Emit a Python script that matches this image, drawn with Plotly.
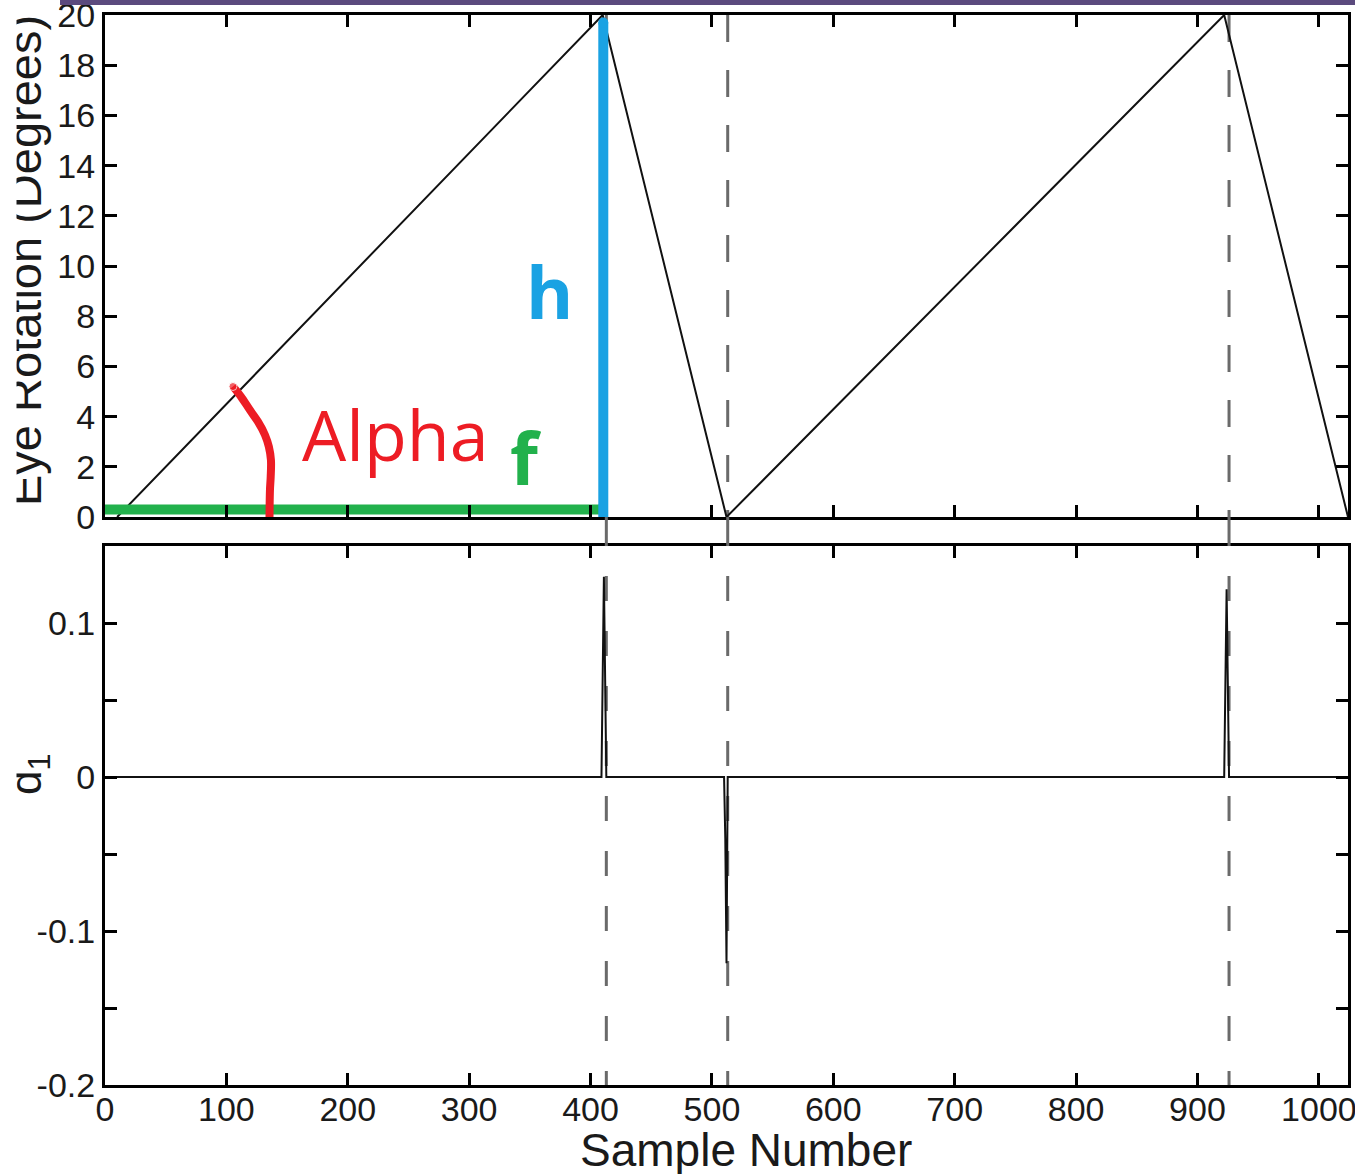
import plotly.graph_objects as go

# ---------------- data ----------------
saw_x = [10, 410, 512, 922, 1024]
saw_y = [0, 20, 0, 20, 0]

d1_x = [0, 409, 411, 413, 510, 511, 512, 513, 922, 924, 926, 1024]
d1_y = [0, 0, 0.13, 0, 0, -0.04, -0.121, 0, 0, 0.122, 0, 0]

event_x = [413, 513, 926]

green_x = [-4, 408]
green_y = [0.3, 0.3]
blue_x = [410.5, 410.5]
blue_y = [-0.1, 19.7]
red_x = [105.4, 112, 119.4, 126, 131.8, 135, 136.7, 136.5, 135.9, 135.5]
red_y = [5.2, 4.8, 4.26, 3.8, 3.27, 2.8, 2.27, 1.6, 1.08, -0.1]

x_ticks = [0, 100, 200, 300, 400, 500, 600, 700, 800, 900, 1000]
x_ticktext = ["0", "100", "200", "300", "400", "500", "600", "700", "800", "900", "1000"]
top_y_ticks = [0, 2, 4, 6, 8, 10, 12, 14, 16, 18, 20]
bot_y_ticks = [-0.2, -0.15, -0.1, -0.05, 0, 0.05, 0.1, 0.15]
bot_y_ticktext = ["-0.2", "", "-0.1", "", "0", "", "0.1", ""]

FONT = "Liberation Sans, Arial, sans-serif"
ANN_FONT = "Open Sans, Noto Sans, sans-serif"

fig = go.Figure()

fig.add_trace(go.Scatter(x=saw_x, y=saw_y, mode="lines",
                         line=dict(color="#111111", width=2),
                         xaxis="x", yaxis="y", showlegend=False))

fig.add_trace(go.Scatter(x=green_x, y=green_y, mode="lines+markers",
                         line=dict(color="#22b14c", width=10),
                         marker=dict(color="#22b14c", size=10),
                         xaxis="x", yaxis="y", showlegend=False, cliponaxis=False))
fig.add_trace(go.Scatter(x=blue_x, y=blue_y, mode="lines+markers",
                         line=dict(color="#1aa2e3", width=10),
                         marker=dict(color="#1aa2e3", size=10),
                         xaxis="x", yaxis="y", showlegend=False, cliponaxis=False))
fig.add_trace(go.Scatter(x=red_x, y=red_y, mode="lines+markers",
                         line=dict(color="#ed1c24", width=8, shape="spline"),
                         marker=dict(color="#ed1c24", size=[8, 0, 0, 0, 0, 0, 0, 0, 0, 8]),
                         xaxis="x", yaxis="y", showlegend=False, cliponaxis=False))

fig.add_trace(go.Scatter(x=d1_x, y=d1_y, mode="lines",
                         line=dict(color="#111111", width=2),
                         xaxis="x2", yaxis="y2", showlegend=False))

top_dom = [0.5308, 1.0]
bot_dom = [0.0, 0.5037]

shapes = []
for ex in event_x:
    shapes.append(dict(type="line", xref="x", yref="y", x0=ex, x1=ex, y0=20, y1=0,
                       line=dict(color="#6a6a6a", width=3, dash="27px,28px"), layer="below"))
    shapes.append(dict(type="line", xref="x2", yref="paper", x0=ex, x1=ex,
                       y0=bot_dom[1], y1=top_dom[0],
                       line=dict(color="#6a6a6a", width=3)))
    shapes.append(dict(type="line", xref="x2", yref="y2", x0=ex, x1=ex, y0=0.15, y1=-0.2,
                       line=dict(color="#6a6a6a", width=3, dash="0px,30px,25px,0px"), layer="below"))

# purple bar at top
shapes.append(dict(type="rect", xref="paper", yref="paper",
                   x0=(60 - 105) / 1243, x1=(1360 - 105) / 1243,
                   y0=(1085 - 5) / 1070, y1=(1085 + 20) / 1070,
                   fillcolor="#5b4a7e", line=dict(width=0)))

axis_common = dict(showline=True, linecolor="black", linewidth=3, mirror="ticks",
                   ticks="inside", ticklen=12, tickwidth=3, tickcolor="black",
                   showgrid=False, zeroline=False, ticklabeloverflow="allow",
                   automargin=False,
                   tickfont=dict(family=FONT, size=34, color="#1a1a1a"))

fig.update_layout(
    width=1355, height=1174,
    margin=dict(l=105, r=7, t=15, b=89, autoexpand=False),
    paper_bgcolor="white", plot_bgcolor="white",
    xaxis=dict(domain=[0, 1], anchor="y", range=[0, 1024], tickvals=x_ticks,
               showticklabels=False, **axis_common),
    yaxis=dict(domain=top_dom, anchor="x", range=[0, 20], tickvals=top_y_ticks,
               **axis_common),
    xaxis2=dict(domain=[0, 1], anchor="y2", range=[0, 1024], tickvals=x_ticks,
                ticktext=x_ticktext, ticklabelstandoff=-8, **axis_common),
    yaxis2=dict(domain=bot_dom, anchor="x2", range=[-0.2, 0.15], tickvals=bot_y_ticks,
                ticktext=bot_y_ticktext, **axis_common),
    shapes=shapes,
    annotations=[
        dict(text="Eye Rotation (Degrees)", xref="paper", yref="paper",
             x=(24 - 105) / 1243, y=(1085 - 261) / 1070, textangle=-90,
             showarrow=False, xanchor="center", yanchor="middle",
             font=dict(family=FONT, size=47, color="#1a1a1a")),
        dict(text="d<sub>1</sub>", xref="paper", yref="paper",
             x=(29 - 105) / 1243, y=(1085 - 774) / 1070, textangle=-90,
             showarrow=False, xanchor="center", yanchor="middle",
             font=dict(family=FONT, size=44, color="#1a1a1a")),
        # white strip covering the far-left edge (the reference is cropped there)
        dict(text=" ", xref="paper", yref="paper", x=0 - 105 / 1243, y=0.5,
             xanchor="left", yanchor="middle", showarrow=False,
             width=15, height=1300, bgcolor="white", borderpad=0),
        dict(text="Sample Number", xref="paper", yref="paper",
             x=(746 - 105) / 1243, y=(1085 - 1150) / 1070,
             showarrow=False, xanchor="center", yanchor="middle",
             font=dict(family=FONT, size=46, color="#1a1a1a")),
        dict(text="Alpha", xref="x", yref="y", x=239, y=3.3, showarrow=False,
             xanchor="center", yanchor="middle",
             font=dict(family=ANN_FONT, size=70, color="#ed1c24")),
        dict(text="<b>h</b>", xref="x", yref="y", x=366, y=9.0, showarrow=False,
             xanchor="center", yanchor="middle",
             font=dict(family=ANN_FONT, size=72, color="#1aa2e3")),
        dict(text="<b>f</b>", xref="x", yref="y", x=347, y=2.4, showarrow=False,
             xanchor="center", yanchor="middle",
             font=dict(family=ANN_FONT, size=72, color="#22b14c")),
    ],
)

fig.write_html("out.html", config={"displayModeBar": False},
               post_script="document.body.style.margin='0px';document.body.style.overflow='hidden';")
